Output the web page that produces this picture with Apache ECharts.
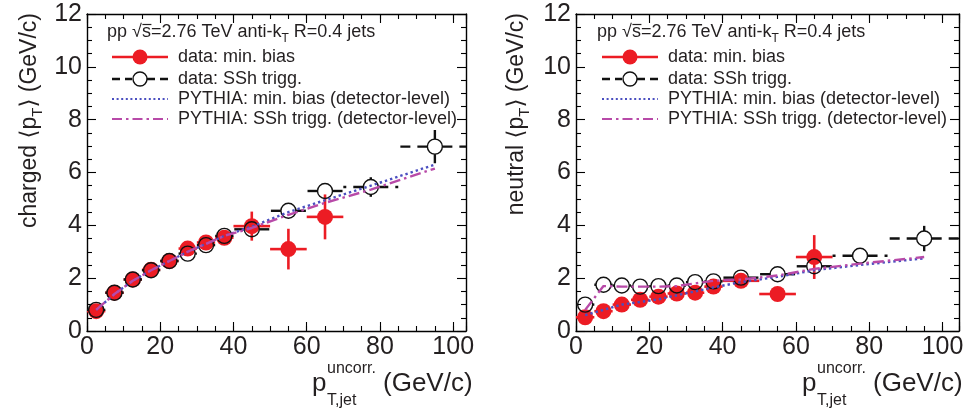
<!DOCTYPE html>
<html><head><meta charset="utf-8">
<script src="https://cdn.jsdelivr.net/npm/echarts@6/dist/echarts.min.js"></script>
<style>html,body{margin:0;padding:0;background:#fff}#c{width:967px;height:410px}</style>
</head><body><div id="c"></div>
<script>
// ---------------- data ----------------
const binCenters    = [2.5, 7.5, 12.5, 17.5, 22.5, 27.5, 32.5, 37.5, 45, 55, 65, 77.5, 95];
const binHalfWidths = [2.5, 2.5, 2.5, 2.5, 2.5, 2.5, 2.5, 2.5, 5, 5, 5, 7.5, 10];
const xTickLabels = [0, 20, 40, 60, 80, 100];
const yTickLabels = [0, 2, 4, 6, 8, 10, 12];

// charged <pT>
const chargedMinBias       = [0.75, 1.45, 1.95, 2.32, 2.65, 3.12, 3.35, 3.53, 3.97, 3.1, 4.32];
const chargedMinBiasErr    = [0.06, 0.08, 0.1, 0.1, 0.12, 0.15, 0.18, 0.28, 0.55, 0.77, 0.85];
const chargedSSh           = [0.8, 1.45, 1.95, 2.3, 2.65, 2.93, 3.25, 3.6, 3.85, 4.55, 5.3, 5.45, 6.98];
const chargedSShErr        = [0.04, 0.04, 0.05, 0.05, 0.05, 0.06, 0.07, 0.1, 0.12, 0.15, 0.22, 0.37, 0.63];
const chargedPythiaMinBias = [0.8, 1.4, 1.9, 2.3, 2.65, 3.0, 3.3, 3.6, 3.95, 4.5, 4.95, 5.5, 6.3];
const chargedPythiaSSh     = [0.8, 1.4, 1.9, 2.3, 2.65, 3.0, 3.3, 3.6, 3.9, 4.4, 4.85, 5.35, 6.15];

// neutral <pT>
const neutralMinBias       = [0.52, 0.75, 1.0, 1.18, 1.3, 1.42, 1.45, 1.68, 1.9, 1.4, 2.8];
const neutralMinBiasErr    = [0.04, 0.05, 0.06, 0.07, 0.08, 0.1, 0.1, 0.12, 0.15, 0.22, 0.83];
const neutralSSh           = [1.0, 1.75, 1.72, 1.68, 1.7, 1.72, 1.85, 1.88, 2.02, 2.15, 2.45, 2.85, 3.5];
const neutralSShErr        = [0.04, 0.04, 0.04, 0.04, 0.05, 0.05, 0.05, 0.06, 0.08, 0.1, 0.2, 0.15, 0.48];
const neutralPythiaMinBias = [0.6, 0.8, 1.0, 1.1, 1.2, 1.35, 1.5, 1.65, 1.85, 2.05, 2.3, 2.5, 2.75];
const neutralPythiaSSh     = [0.8, 1.7, 1.68, 1.68, 1.68, 1.7, 1.8, 1.9, 1.95, 2.1, 2.35, 2.55, 2.8];

// ---------------- styling ----------------
const FONT = 'Liberation Sans, Arial, Helvetica, DejaVu Sans, sans-serif';
const TXT = '#231f20';
const RED = '#ec1c24';
const BLUE = '#4b4fc0';
const MAG = '#b84aa8';
const PANEL_DX = 490;

// error bars that start at the marker edge (gap = marker radius in px)
function errRender(color, dash, width, gap) {
  return function (params, api) {
    const x = api.value(0), y = api.value(1), ex = api.value(2), ey = api.value(3);
    const p = api.coord([x, y]);
    const a = api.coord([x - ex, y]), b = api.coord([x + ex, y]);
    const c = api.coord([x, y - ey]), d = api.coord([x, y + ey]);
    const segs = [];
    const add = (x1, y1, x2, y2, dsh) => {
      if (Math.abs(x2 - x1) + Math.abs(y2 - y1) < 0.5) return;
      segs.push({ type: 'line', shape: { x1, y1, x2, y2 }, style: { stroke: color, lineWidth: width, lineDash: dsh || null, fill: null } });
    };
    if (a[0] < p[0] - gap) add(p[0] - gap, p[1], a[0], a[1], dash);
    if (b[0] > p[0] + gap) add(p[0] + gap, p[1], b[0], b[1], dash);
    if (c[1] > p[1] + gap) add(p[0], p[1] + gap, c[0], c[1], null);
    if (d[1] < p[1] - gap) add(p[0], p[1] - gap, d[0], d[1], null);
    return { type: 'group', children: segs };
  };
}

function xAxes(grid, xmax) {
  const base = (pos, major) => ({
    gridIndex: grid, type: 'value', position: pos, min: 0, max: xmax, interval: major ? 20 : 5,
    axisLine: { show: major, onZero: false, lineStyle: { color: '#000', width: 1.4 } },
    axisTick: { show: true, inside: true, length: major ? 9 : 5, lineStyle: { color: '#000', width: 1.1 } },
    axisLabel: { show: major && pos === 'bottom', fontSize: 25, color: TXT, fontFamily: FONT, margin: 4,
                 formatter: v => xTickLabels.includes(v) ? String(v) : '' },
    splitLine: { show: false }
  });
  return [base('bottom', true), base('bottom', false), base('top', true), base('top', false)];
}
function yAxes(grid) {
  const base = (pos) => ({
    gridIndex: grid, type: 'value', position: pos, min: 0, max: 12, interval: 2,
    axisLine: { show: true, onZero: false, lineStyle: { color: '#000', width: 1.4 } },
    axisTick: { show: true, inside: true, length: 9, lineStyle: { color: '#000', width: 1.1 } },
    minorTick: { show: true, splitNumber: 4, length: 5, lineStyle: { color: '#000', width: 1.1 } },
    axisLabel: { show: pos === 'left', fontSize: 25, color: TXT, fontFamily: FONT, margin: 5,
                 formatter: v => yTickLabels.includes(v) ? String(v) : '' },
    splitLine: { show: false }
  });
  return [base('left'), base('right')];
}

function panelSeries(xi, yi, mb, mbErr, ssh, sshErr, pyMB, pySSh) {
  const mbData = mb.map((v, i) => [binCenters[i], v, binHalfWidths[i], mbErr[i]]);
  const sshData = ssh.map((v, i) => [binCenters[i], v, binHalfWidths[i], sshErr[i]]);
  return [
    { type: 'custom', xAxisIndex: xi, yAxisIndex: yi, renderItem: errRender(RED, null, 2.6, 7),
      data: mbData, clip: true, z: 2, silent: true },
    { type: 'scatter', xAxisIndex: xi, yAxisIndex: yi, data: mb.map((v, i) => [binCenters[i], v]),
      symbol: 'circle', symbolSize: 16, itemStyle: { color: RED, opacity: 1 }, z: 3, silent: true },
    { type: 'custom', xAxisIndex: xi, yAxisIndex: yi, renderItem: errRender('#111', [10, 7], 2.4, 7.5),
      data: sshData, clip: true, z: 4, silent: true },
    { type: 'scatter', xAxisIndex: xi, yAxisIndex: yi, data: ssh.map((v, i) => [binCenters[i], v]),
      symbol: 'circle', symbolSize: 15,
      itemStyle: { color: 'rgba(0,0,0,0)', borderColor: '#111', borderWidth: 1.4, opacity: 1 }, z: 5, silent: true },
    { type: 'line', xAxisIndex: xi, yAxisIndex: yi, data: pyMB.map((v, i) => [binCenters[i], v]),
      showSymbol: false, lineStyle: { color: BLUE, width: 2.4, type: [2.4, 3] }, z: 6, silent: true },
    { type: 'line', xAxisIndex: xi, yAxisIndex: yi, data: pySSh.map((v, i) => [binCenters[i], v]),
      showSymbol: false, lineStyle: { color: MAG, width: 2.4, type: [11, 4, 2.5, 4] }, z: 7, silent: true }
  ];
}

// measure for the sqrt overline
const mctx = document.createElement('canvas').getContext('2d');
mctx.font = '18px ' + FONT;
const wPre = mctx.measureText('pp √').width;
const wS = mctx.measureText('s').width;

function panelGraphics(ox, yTitle) {
  const t = (x, y, text, size, extra) => Object.assign({
    type: 'text', x: x + ox, y: y, silent: true,
    style: { text: text, fontSize: size, fontFamily: FONT, fill: TXT, textAlign: 'left', align: 'left',
             textVerticalAlign: 'middle', verticalAlign: 'middle' }
  }, extra || {});
  const ln = (x1, y, x2, stroke, w, dash) => ({ type: 'line', silent: true,
    shape: { x1: x1 + ox, y1: y, x2: x2 + ox, y2: y }, style: { stroke: stroke, lineWidth: w, lineDash: dash || null } });
  const g = [];
  const head = t(107, 32, 'pp √s=2.76 TeV anti-k{sub|T} R=0.4 jets', 18);
  head.style.rich = { sub: { fontSize: 12, fontFamily: FONT, fill: TXT, verticalAlign: 'bottom', lineHeight: 12 } };
  head.style.lineHeight = 26;
  g.push(head);
  g.push(ln(107 + wPre + 0.5, 24.5, 107 + wPre + wS + 0.5, TXT, 1.2));
  g.push(ln(112, 57, 168, RED, 2.6));
  g.push({ type: 'circle', silent: true, shape: { cx: 140 + ox, cy: 57, r: 7.5 }, style: { fill: RED } });
  g.push(t(178, 57, 'data: min. bias', 18));
  g.push(ln(112, 79, 132, '#111', 2.4, [8, 5]));
  g.push(ln(147, 79, 168, '#111', 2.4, [8, 5]));
  g.push({ type: 'circle', silent: true, shape: { cx: 140 + ox, cy: 79, r: 7 }, style: { fill: 'rgba(0,0,0,0)', stroke: '#111', lineWidth: 1.4 } });
  g.push(t(178, 79, 'data: SSh trigg.', 18));
  g.push(ln(112, 99, 168, BLUE, 2, [2, 2.6]));
  g.push(t(178, 99, 'PYTHIA: min. bias (detector-level)', 18));
  g.push(ln(112, 119, 168, MAG, 2.2, [10, 4, 2.5, 4]));
  g.push(t(178, 119, 'PYTHIA: SSh trigg. (detector-level)', 18));
  const yt = { type: 'text', x: 30 + ox - (ox ? 3 : 0), y: 13, rotation: Math.PI / 2, silent: true,
    style: { text: yTitle + ' ⟨p{sub|T}⟩ (GeV/c)', fontSize: 23, fontFamily: FONT, fill: TXT,
             textAlign: 'right', align: 'right', textVerticalAlign: 'middle', verticalAlign: 'middle', lineHeight: 30,
             rich: { sub: { fontSize: 15, fontFamily: FONT, fill: TXT, verticalAlign: 'bottom', lineHeight: 16 } } } };
  g.push(yt);
  g.push(t(312, 384, 'p', 26));
  g.push(t(327, 369, 'uncorr.', 16));
  g.push(t(327, 401, 'T,jet', 16));
  g.push(t(383, 384, '(GeV/c)', 26));
  return g;
}

const option = {
  animation: false,
  backgroundColor: '#fff',
  grid: [
    { left: 87, right: 967 - 466, top: 14, bottom: 79 },
    { left: 576, right: 8, top: 14, bottom: 79 }
  ],
  xAxis: [...xAxes(0, 103.5), ...xAxes(1, 104.5)],
  yAxis: [...yAxes(0), ...yAxes(1)],
  series: [
    ...panelSeries(0, 0, chargedMinBias, chargedMinBiasErr, chargedSSh, chargedSShErr, chargedPythiaMinBias, chargedPythiaSSh),
    ...panelSeries(4, 2, neutralMinBias, neutralMinBiasErr, neutralSSh, neutralSShErr, neutralPythiaMinBias, neutralPythiaSSh)
  ],
  graphic: [...panelGraphics(0, 'charged'), ...panelGraphics(PANEL_DX, 'neutral')]
};
const chart = echarts.init(document.getElementById('c'), null, { renderer: 'canvas' });
chart.setOption(option);
</script>
</body></html>
